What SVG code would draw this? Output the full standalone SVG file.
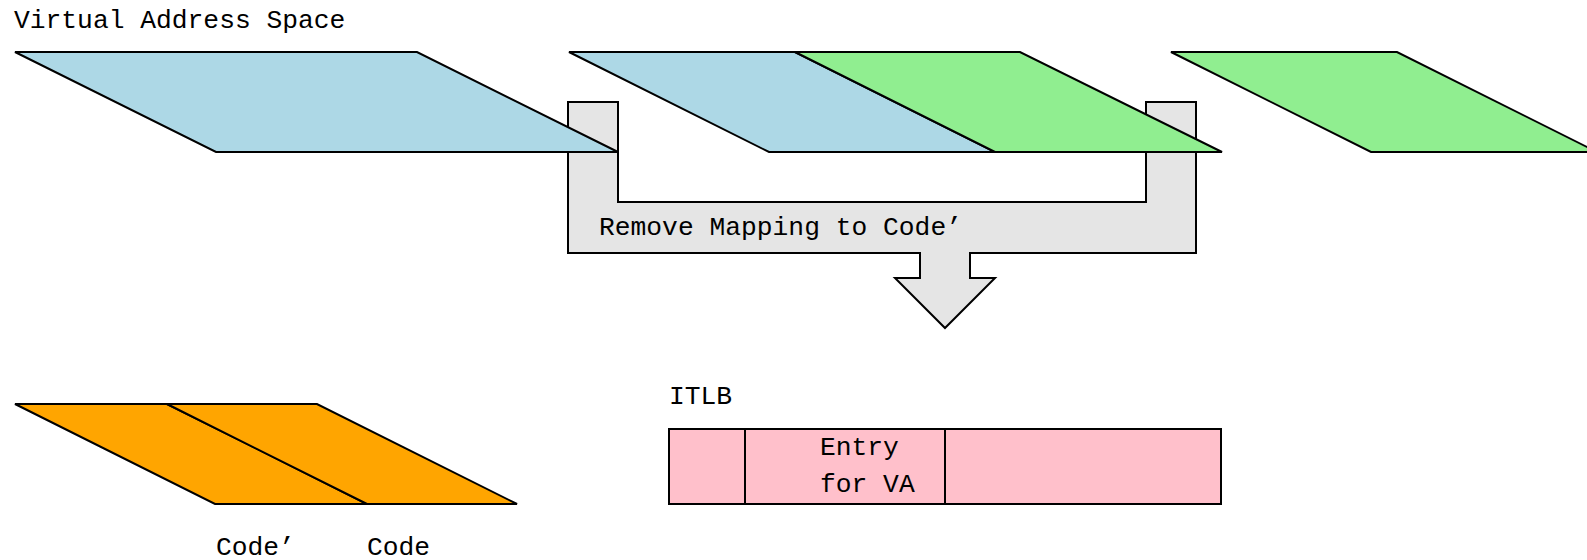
<svg xmlns="http://www.w3.org/2000/svg" width="1587" height="560" viewBox="0 0 1587 560">
  <style>
    .shape { stroke: #000; stroke-width: 2; stroke-linejoin: miter; }
    .blue { fill: #ADD8E6; }
    .green { fill: #90EE90; }
    .orange { fill: #FFA500; }
    .pink { fill: #FFC0CB; }
    .grey { fill: #E5E5E5; }
    .label { font-family: "Liberation Mono", "DejaVu Sans Mono", monospace; font-size: 26.3px; fill: #000; }
  </style>

  <!-- Block arrow: remove mapping -->
  <g id="connectors">
    <path class="shape grey" d="M568,102 H618 V202 H1146 V102 H1196 V253 H970 V278 H995 L945,328 L895,278 H920 V253 H568 Z"/>
    <text class="label" x="599" y="235">Remove Mapping to Code’</text>
  </g>

  <text id="title" class="label" x="14" y="28">Virtual Address Space</text>

  <!-- Virtual address space, before -->
  <g id="vas-before">
    <polygon class="shape blue" points="15,52 417,52 618,152 216,152"/>
  </g>

  <!-- Virtual address space, during -->
  <g id="vas-during">
    <polygon class="shape blue" points="569,52 795,52 995,152 769,152"/>
    <polygon class="shape green" points="795,52 1020,52 1222,152 995,152"/>
  </g>

  <!-- Virtual address space, after -->
  <g id="vas-after">
    <polygon class="shape green" points="1171,52 1397,52 1597,152 1371,152"/>
  </g>

  <!-- Physical code pages -->
  <g id="code-pages">
    <polygon class="shape orange" points="15,404 167,404 367,504 215,504"/>
    <polygon class="shape orange" points="167,404 317,404 517,504 367,504"/>
    <text class="label" x="216" y="555">Code’</text>
    <text class="label" x="367" y="555">Code</text>
  </g>

  <!-- Instruction TLB -->
  <g id="itlb">
    <text class="label" x="669" y="404">ITLB</text>
    <rect class="shape pink" x="669" y="429" width="76" height="75"/>
    <rect class="shape pink" x="745" y="429" width="200" height="75"/>
    <rect class="shape pink" x="945" y="429" width="276" height="75"/>
    <text class="label" x="820" y="455">Entry</text>
    <text class="label" x="820" y="492">for VA</text>
  </g>
</svg>
